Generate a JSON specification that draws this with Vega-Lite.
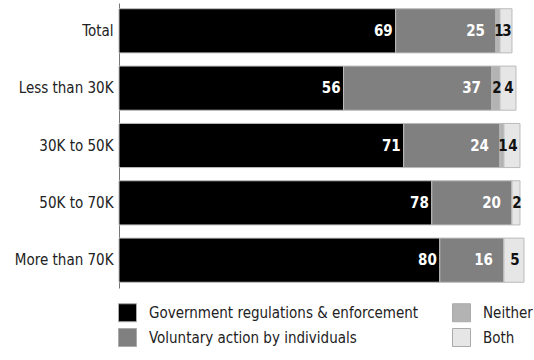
{
  "$schema": "https://vega.github.io/schema/vega-lite/v6.json",
  "autosize": {"type": "none"},
  "padding": {"left": 119, "top": 3, "right": 10, "bottom": 72},
  "width": 405,
  "height": 285,
  "background": "white",
  "config": {
    "view": {"stroke": null},
    "font": "DejaVu Sans Condensed"
  },
  "data": {
    "values": [
      {"cat": "Total", "series": "Government regulations & enforcement", "k": 1, "value": 69},
      {"cat": "Total", "series": "Voluntary action by individuals", "k": 2, "value": 25},
      {"cat": "Total", "series": "Neither", "k": 3, "value": 1},
      {"cat": "Total", "series": "Both", "k": 4, "value": 3},
      {"cat": "Less than 30K", "series": "Government regulations & enforcement", "k": 1, "value": 56},
      {"cat": "Less than 30K", "series": "Voluntary action by individuals", "k": 2, "value": 37},
      {"cat": "Less than 30K", "series": "Neither", "k": 3, "value": 2},
      {"cat": "Less than 30K", "series": "Both", "k": 4, "value": 4},
      {"cat": "30K to 50K", "series": "Government regulations & enforcement", "k": 1, "value": 71},
      {"cat": "30K to 50K", "series": "Voluntary action by individuals", "k": 2, "value": 24},
      {"cat": "30K to 50K", "series": "Neither", "k": 3, "value": 1},
      {"cat": "30K to 50K", "series": "Both", "k": 4, "value": 4},
      {"cat": "50K to 70K", "series": "Government regulations & enforcement", "k": 1, "value": 78},
      {"cat": "50K to 70K", "series": "Voluntary action by individuals", "k": 2, "value": 20},
      {"cat": "50K to 70K", "series": "Neither", "k": 3, "value": 0},
      {"cat": "50K to 70K", "series": "Both", "k": 4, "value": 2},
      {"cat": "More than 70K", "series": "Government regulations & enforcement", "k": 1, "value": 80},
      {"cat": "More than 70K", "series": "Voluntary action by individuals", "k": 2, "value": 16},
      {"cat": "More than 70K", "series": "Neither", "k": 3, "value": 0},
      {"cat": "More than 70K", "series": "Both", "k": 4, "value": 5}
    ]
  },
  "transform": [
    {"stack": "value", "groupby": ["cat"], "sort": [{"field": "k", "order": "ascending"}], "as": ["v0", "v1"]}
  ],
  "encoding": {
    "y": {
      "field": "cat", "type": "nominal",
      "sort": ["Total", "Less than 30K", "30K to 50K", "50K to 70K", "More than 70K"],
      "scale": {"paddingInner": 0.23, "paddingOuter": 0.1},
      "axis": {"title": null, "ticks": false, "labelFontSize": 15, "labelColor": "#222222", "domainColor": "#777777", "labelPadding": 6, "labelFont": "DejaVu Sans Condensed"}
    }
  },
  "layer": [
    {
      "mark": {"type": "bar", "stroke": "#bbbbbb", "strokeWidth": 1},
      "encoding": {
        "x": {"field": "v0", "type": "quantitative", "scale": {"domain": [0, 101], "nice": false}, "axis": null},
        "x2": {"field": "v1"},
        "color": {
          "field": "series", "type": "nominal",
          "scale": {
            "domain": ["Government regulations & enforcement", "Voluntary action by individuals", "Neither", "Both"],
            "range": ["#000000", "#808080", "#b3b3b3", "#e6e6e6"]
          },
          "legend": {
            "title": null, "orient": "none", "legendX": -1, "legendY": 300, "columns": 2,
            "columnPadding": 31, "rowPadding": 2, "symbolType": "square", "symbolSize": 324,
            "symbolStrokeColor": "#aaaaaa", "symbolStrokeWidth": 1, "labelFontSize": 15,
            "labelFont": "DejaVu Sans Condensed", "labelColor": "#222222", "labelOffset": 12, "labelLimit": 400
          }
        }
      }
    },
    {
      "transform": [{"filter": "datum.k == 1"}],
      "mark": {"type": "text", "align": "right", "dx": -3, "color": "white", "fontWeight": "bold", "fontSize": 15},
      "encoding": {
        "x": {"field": "v1", "type": "quantitative"},
        "text": {"field": "value", "type": "quantitative"}
      }
    },
    {
      "transform": [{"filter": "datum.k == 2"}],
      "mark": {"type": "text", "align": "right", "dx": -11, "color": "white", "fontWeight": "bold", "fontSize": 15},
      "encoding": {
        "x": {"field": "v1", "type": "quantitative"},
        "text": {"field": "value", "type": "quantitative"}
      }
    },
    {
      "transform": [
        {"filter": "datum.k >= 3 && datum.value > 0"},
        {"fold": ["v0", "v1"], "as": ["fk", "fv"]},
        {"aggregate": [{"op": "mean", "field": "fv", "as": "mid"}], "groupby": ["cat", "series", "k", "value"]}
      ],
      "mark": {"type": "text", "align": "center", "dx": 1, "color": "#111111", "fontWeight": "bold", "fontSize": 15},
      "encoding": {
        "x": {"field": "mid", "type": "quantitative"},
        "text": {"field": "value", "type": "quantitative"}
      }
    }
  ]
}
